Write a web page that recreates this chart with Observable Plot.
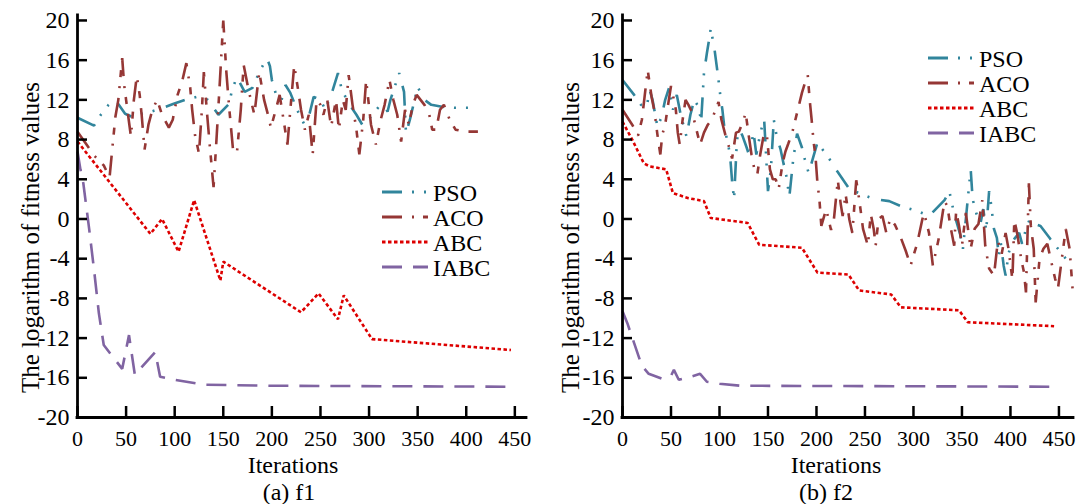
<!DOCTYPE html>
<html><head><meta charset="utf-8">
<script src="https://cdn.jsdelivr.net/npm/d3@7"></script>
<script src="https://cdn.jsdelivr.net/npm/@observablehq/plot@0.6"></script>
<style>
body{margin:0;background:#fff;}
#chart{position:relative;width:1077px;height:504px;overflow:hidden;background:#fff;font-family:"Liberation Serif","Times New Roman",serif;}
.panel{position:absolute;top:0;}
.cap{position:absolute;top:480px;height:24px;line-height:24px;font-size:24px;text-align:center;width:200px;color:#000;}
.legend{position:absolute;overflow:visible;}
</style></head><body><div id="chart"></div>
<script>
// ---- data ----
const xTicks = [0, 50, 100, 150, 200, 250, 300, 350, 400, 450];
const yTicks = [-20, -16, -12, -8, -4, 0, 4, 8, 12, 16, 20];
const seriesNames = ["PSO", "ACO", "ABC", "IABC"];
const seriesColors = ["#31859C", "#953735", "#DD0000", "#8064A2"];
const seriesDash = ["20 10 2 10 2 12", "20 10 2 9 7 10", "3.5 2.5", "20 11"];
const yLabel = "The logarithm of fitness values";
const xLabel = "Iterations";
const captions = ["(a) f1", "(b) f2"];

// f1 : [iteration, log fitness]
const f1PSO = [[0,10.2],[17,9.4],[24,10.5],[32,11.5],[39,12],[49,10.6],[56,10.3],[66,10.6],[75,10.8],[82,11],[99,11.6],[111,12],[123,12.3],[134,12],[145,10.5],[156,11.6],[159,13],[164,14.3],[172,12.8],[180,13.2],[188,15],[195,16.2],[198,15.4],[200,14],[205,12.3],[210,12],[214,13.5],[219,12.7],[226,11],[233,9.6],[238,10.3],[243,12.3],[250,12],[255,11],[262,12.8],[268,14.7],[272,13],[280,11.5],[287,10.5],[293,9.5],[302,10.3],[310,11.3],[316,11.5],[319,10.8],[322,12],[331,14.7],[336,12.8],[338,8.6],[342,10],[350,13.3],[357,12],[364,11.5],[375,11.3],[389,11.2],[410,11.2]];
const f1ACO = [[0,8.8],[10,7.4],[17,6.4],[27,5.4],[33,4.2],[36,7.3],[39,10.3],[42,12],[46,16.2],[48,13.5],[50,12],[52,10.5],[55,8.3],[58,12],[61,14.4],[64,12.5],[66,10.5],[69,7],[73,9.5],[77,11],[82,12],[87,10.5],[94,9.2],[98,10],[103,12.5],[108,14],[112,15.7],[116,13.2],[118,11],[121,8.4],[125,6.6],[128,11],[130,14.8],[133,11],[136,7.5],[140,3.2],[143,8],[146,13],[150,20],[153,15],[156,11.3],[160,7],[164,6.6],[168,11],[171,15.5],[176,13],[182,10.5],[187,14.8],[192,12],[196,10.5],[199,9.2],[204,11],[208,12.5],[212,10],[216,7.5],[219,11],[223,15.5],[227,13],[230,11],[234,9],[238,10.5],[242,6.5],[246,12],[250,11.5],[253,10.5],[257,12],[261,9.3],[266,12],[269,9],[273,12],[276,11],[279,14.5],[283,11.5],[287,9],[290,6.5],[294,10],[297,14],[302,9.5],[307,7.5],[312,10],[316,11.5],[321,14],[325,12],[329,10.5],[333,7.8],[337,11],[341,9.5],[345,11.5],[349,12.5],[353,12],[357,11.5],[362,10.5],[365,9],[369,9],[373,11],[377,11.5],[383,10],[389,9],[398,8.8],[412,8.8]];
const f1ABC = [[0,7.8],[75,-1.5],[87,0],[104,-3.3],[120,1.9],[147,-6.2],[150,-4.3],[230,-9.4],[248,-7.5],[268,-10.1],[274,-7.7],[303,-12.1],[446,-13.2]];
const f1IABC = [[0,6.8],[3,5],[6,3.6],[12,-1],[17,-5.1],[22,-9.5],[27,-12.7],[46,-15.1],[53,-11.7],[59,-15.7],[80,-13.4],[85,-15.9],[100,-16.2],[130,-16.7],[200,-16.8],[449,-16.9]];

// f2
const f2PSO = [[0,14],[12,12.5],[19,11.5],[25,11.3],[28,13],[31,12],[36,9.3],[40,10.2],[44,12],[48,13.2],[52,11],[56,12.5],[60,10.5],[66,8.3],[70,10.5],[74,12],[79,11.2],[81,9.7],[84,14.7],[87,16.7],[89,17.9],[91,19.2],[95,17],[97,15.5],[99,14],[101,12.3],[103,11],[105,9.2],[109,7.5],[111,6.3],[113,3.8],[115,2],[118,8],[121,9],[124,8.3],[128,7.2],[131,6.3],[135,8.8],[138,6.5],[142,8.6],[146,10.1],[148,6.5],[150,2.8],[153,5],[156,10],[159,8.3],[163,7],[166,5.6],[169,4.3],[172,2.2],[176,6],[180,8.6],[185,7.2],[188,6],[192,4.6],[196,6],[201,7.7],[213,6.1],[220,5],[234,3],[249,2.4],[260,2],[275,1.8],[287,1.3],[304,0.8],[316,0.3],[322,0.9],[332,1.9],[337,2.8],[342,0.5],[348,-1.5],[351,-3],[355,1],[359,5],[361,2],[365,0.5],[369,-0.5],[372,1],[375,-1.2],[378,2.8],[380,1.5],[383,-1],[386,-1.9],[388,-3.7],[390,-2.4],[393,-4.7],[395,-5.7],[398,-3.5],[401,-2.5],[404,-2],[409,-1.4],[412,-2.5],[416,-1],[420,0],[425,-0.5],[431,-0.7],[441,-2],[449,-3],[457,-4]];
const f2ACO = [[0,11],[10,9.5],[16,8.4],[20,10],[23,12.5],[26,15],[30,12.3],[33,10.8],[36,8.5],[39,6.5],[41,8.5],[44,9.5],[47,11.5],[50,13.4],[53,12],[55,11],[57,8.7],[59,7.5],[62,10],[65,12],[68,11.5],[72,10.7],[77,8.7],[80,7.5],[84,8.7],[88,9.5],[92,10],[96,11],[99,11.8],[102,10],[106,8.5],[110,7.2],[113,6.1],[117,8.7],[120,8.8],[124,9.7],[127,10.7],[130,8.5],[133,6.5],[136,5],[139,4.5],[142,6.5],[146,8.7],[149,8.3],[152,5],[155,4],[158,4],[161,3],[165,5.6],[168,6.8],[171,7.6],[175,8.7],[180,10.7],[185,12.7],[189,14],[191,14.5],[193,12],[195,10],[197,7.8],[199,6.3],[201,3.6],[203,2],[205,-0.7],[210,1],[215,-1.1],[218,0],[222,3.9],[225,1.5],[227,0.3],[230,2.5],[234,-0.1],[237,-1.4],[241,3.9],[244,2],[248,-1],[253,-2.7],[256,0.5],[259,-1],[261,-2.7],[264,0],[268,0.3],[272,-1.4],[276,0],[281,-0.6],[287,-1.9],[292,-3.2],[297,-4.7],[304,-2.4],[309,-0.1],[311,0.6],[316,-1.4],[320,-4.7],[326,-2],[332,1.8],[335,1.3],[338,-0.7],[342,-2.7],[344,0.8],[347,-0.7],[350,-2.7],[354,0.6],[359,-3],[363,-1],[367,-0.5],[371,1.9],[374,-2.7],[378,-5],[383,-5.7],[387,-2.2],[391,-3.5],[395,-1.4],[398,-3],[402,-6.1],[404,-0.1],[407,-1.5],[411,-4],[414,-5.4],[416,-7.4],[419,3.6],[421,-0.7],[424,-3],[426,-8.4],[430,-4],[434,-3],[438,-2.5],[443,-4.7],[446,-6],[449,-7],[453,-4],[457,-1],[461,-3],[464,-7]];
const f2ABC = [[0,9.8],[10,8],[22,5.6],[28,5.3],[45,5],[52,2.6],[68,2.1],[84,1.8],[91,0.1],[129,-0.4],[141,-2.6],[185,-2.9],[201,-5.4],[233,-5.6],[244,-7.2],[277,-7.6],[287,-8.9],[347,-9.2],[356,-10.4],[445,-10.8]];
const f2IABC = [[0,-9.3],[5,-10.5],[12,-12.5],[20,-14.8],[27,-15.6],[41,-16.1],[50,-15.8],[53,-15.2],[58,-16.2],[70,-15.9],[80,-15.6],[87,-16.4],[100,-16.6],[122,-16.8],[450,-16.9]];

// ---- drawing ----
const chart = document.getElementById("chart");

function makePanel({left, width, marginLeft, marginRight, xMax, series, xlabelDx, ylabelDx}) {
  const height = 480, marginTop = 15, marginBottom = 63;
  const innerW = width - marginLeft - marginRight;
  const innerH = height - marginTop - marginBottom;
  const lines = series.map((pts, k) => Plot.line(pts.map(([x, y]) => ({x, y})), {
    x: "x", y: "y", stroke: seriesColors[k], strokeWidth: 2.6,
    strokeDasharray: seriesDash[k], strokeLinecap: "butt", strokeLinejoin: "miter"
  }));
  const svg = Plot.plot({
    width, height, marginLeft, marginRight, marginTop, marginBottom,
    style: {fontFamily: "Liberation Serif, Times New Roman, serif", fontSize: "24px", color: "#000", background: "transparent", overflow: "visible"},
    x: {domain: [0, xMax]},
    y: {domain: [-20, 20.5]},
    marks: [
      ...lines,
      Plot.tickY(yTicks, {y: d => d, insetRight: innerW - 10, stroke: "#000", strokeWidth: 2.5}),
      Plot.tickX(xTicks, {x: d => d, insetTop: innerH - 11, stroke: "#000", strokeWidth: 2.5}),
      Plot.ruleX([0], {stroke: "#000", strokeWidth: 2.8, strokeLinecap: "square"}),
      Plot.ruleY([-20], {stroke: "#000", strokeWidth: 2.8, strokeLinecap: "square"}),
      Plot.axisY(yTicks, {tickSize: 0, tickPadding: 8, fontSize: 24, tickFormat: d => String(d), label: null}),
      Plot.axisX(xTicks, {tickSize: 0, tickPadding: 13, fontSize: 22, tickFormat: d => String(d), label: null}),
      Plot.text([xLabel], {text: d => d, frameAnchor: "bottom", dx: xlabelDx, dy: 55, lineAnchor: "bottom", fontSize: 24}),
      Plot.text([yLabel], {text: d => d, frameAnchor: "left", textAnchor: "middle", rotate: -90, dx: ylabelDx, dy: 21, lineAnchor: "bottom", fontSize: 25})
    ]
  });
  const wrap = document.createElement("div");
  wrap.className = "panel";
  wrap.style.left = left + "px";
  wrap.appendChild(svg);
  chart.appendChild(wrap);
}

function makeLegend(left, top) {
  const rowH = 25;
  const svg = d3.create("svg").attr("class", "legend")
    .attr("width", 160).attr("height", 110)
    .style("left", left + "px").style("top", top + "px");
  seriesNames.forEach((name, k) => {
    const y = 12 + k * rowH;
    svg.append("line").attr("x1", 0).attr("x2", 46).attr("y1", y).attr("y2", y)
      .attr("stroke", seriesColors[k]).attr("stroke-width", 2.8)
      .attr("stroke-dasharray", seriesDash[k]);
    svg.append("text").attr("x", 51).attr("y", y + 9)
      .attr("font-family", "Liberation Serif, Times New Roman, serif")
      .attr("font-size", 24).attr("fill", "#000").text(name);
  });
  chart.appendChild(svg.node());
}

function makeCaption(text, center) {
  const d = document.createElement("div");
  d.className = "cap";
  d.style.left = (center - 100) + "px";
  d.textContent = text;
  chart.appendChild(d);
}

makePanel({left: 0, width: 538, marginLeft: 77, marginRight: 12, xMax: 462,
  series: [f1PSO, f1ACO, f1ABC, f1IABC], xlabelDx: -9, ylabelDx: -39});
makePanel({left: 538, width: 539, marginLeft: 84, marginRight: 4, xMax: 465,
  series: [f2PSO, f2ACO, f2ABC, f2IABC], xlabelDx: -12, ylabelDx: -44});
makeLegend(382, 180);
makeLegend(928, 46);
makeCaption(captions[0], 289);
makeCaption(captions[1], 826);
</script>
</body></html>
